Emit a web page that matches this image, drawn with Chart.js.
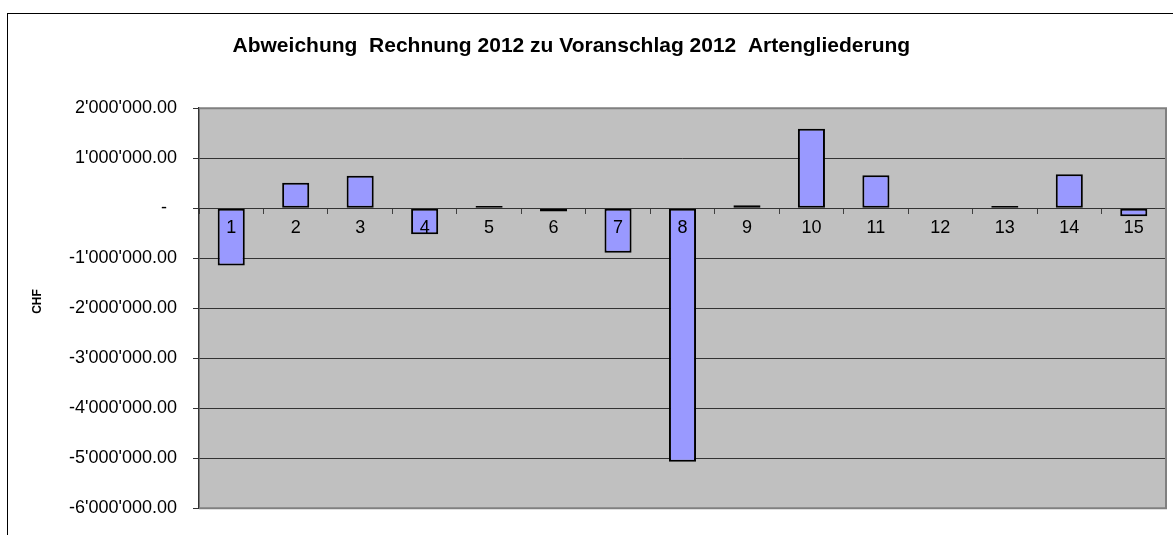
<!DOCTYPE html>
<html>
<head>
<meta charset="utf-8">
<script src="https://cdn.jsdelivr.net/npm/chart.js@4/dist/chart.umd.min.js"></script>
<style>
  html, body { margin: 0; padding: 0; background: #fff; overflow: hidden; }
  #frame { position: absolute; left: 7px; top: 13px; width: 1200px; height: 600px; border: 1px solid #000; }
  #graph { position: absolute; left: 0; top: 0; }
</style>
</head>
<body>
<div id="frame"></div>
<canvas id="graph" width="1173" height="535"></canvas>
<script>
// Daten
var categories = ['1', '2', '3', '4', '5', '6', '7', '8', '9', '10', '11', '12', '13', '14', '15'];
var abweichung = [-1145000, 510000, 650000, -520000, 45000, -65000, -890000, -5070000, 60000, 1590000, 660000, 0, 45000, 680000, -160000];
var yTicks = [2000000, 1000000, 0, -1000000, -2000000, -3000000, -4000000, -5000000, -6000000];

var fontName = '"Liberation Sans", Arial, sans-serif';

// 1234567 -> 1'234'567.00 , 0 -> "-"
function chf(v) {
    if (v === 0) return '-  ';
    var s = Math.abs(v).toFixed(2);
    var parts = s.split('.');
    var intPart = parts[0].replace(/\B(?=(\d{3})+(?!\d))/g, "'");
    return (v < 0 ? '-' : '') + intPart + '.' + parts[1];
}

// grauer Hintergrund der Zeichnungsfläche
var plotBg = {
    id: 'plotBg',
    beforeDraw: function(chart) {
        var a = chart.chartArea;
        var ctx = chart.ctx;
        ctx.save();
        ctx.fillStyle = '#c0c0c0';
        ctx.fillRect(a.left, a.top, a.right - a.left, a.bottom - a.top);
        ctx.restore();
    },
    afterDraw: function(chart) {
        var a = chart.chartArea;
        var ctx = chart.ctx;
        ctx.save();
        ctx.strokeStyle = '#808080';
        ctx.lineWidth = 2;
        ctx.beginPath();
        ctx.moveTo(a.left, a.top);
        ctx.lineTo(a.right, a.top);
        ctx.lineTo(a.right, a.bottom);
        ctx.lineTo(a.left, a.bottom);
        ctx.stroke();
        ctx.restore();
    }
};

var ctx = document.getElementById('graph').getContext('2d');
window.myBar = new Chart(ctx, {
    type: 'bar',
    data: {
        labels: categories,
        datasets: [{
            data: abweichung,
            backgroundColor: '#9999ff',
            borderColor: '#000000',
            borderWidth: 2,
            borderSkipped: false,
            categoryPercentage: 1,
            barPercentage: 0.42
        }]
    },
    options: {
        responsive: false,
        animation: false,
        layout: {
            padding: { left: 0, right: 7, top: 0, bottom: 26 }
        },
        plugins: {
            legend: { display: false },
            tooltip: { enabled: false },
            title: {
                display: true,
                // Leerzeichen am Ende: Titel sitzt etwas links der Mitte
                text: 'Abweichung  Rechnung 2012 zu Voranschlag 2012  Artengliederung    ',
                color: '#000',
                font: { family: fontName, size: 21, weight: 'bold' },
                padding: { top: 34, bottom: 49 }
            }
        },
        scales: {
            x: {
                position: { y: 0 },
                grid: {
                    offset: true,
                    drawOnChartArea: false,
                    drawTicks: true,
                    tickLength: 5,
                    color: '#404040'
                },
                border: { display: true, color: '#333', width: 1 },
                ticks: {
                    z: 1,
                    color: '#000',
                    padding: 4,
                    maxRotation: 0,
                    font: { family: fontName, size: 18 }
                }
            },
            y: {
                min: -6000000,
                max: 2000000,
                afterFit: function(scale) { scale.width = 199; },
                afterBuildTicks: function(scale) {
                    scale.ticks = yTicks.map(function(v) { return { value: v }; });
                },
                grid: {
                    color: '#333',
                    lineWidth: 1,
                    drawTicks: true,
                    tickLength: 6
                },
                border: { display: true, color: '#333', width: 1.5 },
                ticks: {
                    color: '#000',
                    padding: 16,
                    font: { family: fontName, size: 18 },
                    callback: function(v) { return chf(v); }
                },
                title: {
                    display: true,
                    // Leerzeichen vorne: etwas oberhalb der Mitte
                    text: '    CHF',
                    color: '#000',
                    font: { family: fontName, size: 12, weight: 'bold' },
                    padding: { top: 30, bottom: 0 }
                }
            }
        }
    },
    plugins: [plotBg]
});
</script>
</body>
</html>
